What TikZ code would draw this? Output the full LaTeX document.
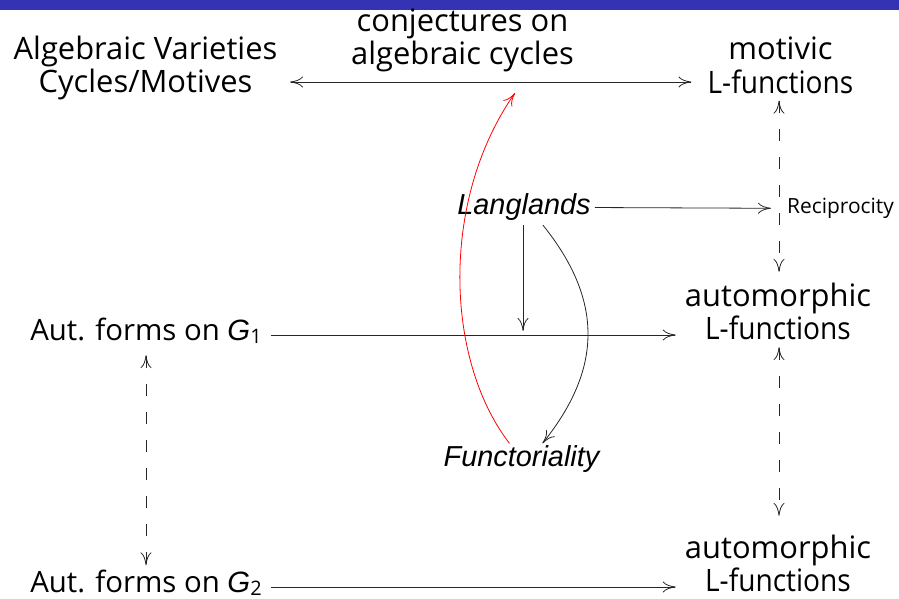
\documentclass[tikz,border=0pt]{standalone}
\usepackage{fontspec}
\usepackage{graphicx}
\setmainfont{Open Sans}
\newfontfamily\helv{Liberation Sans}
\usetikzlibrary{arrows.meta}
\definecolor{bblue}{RGB}{51,51,179}
\newcommand{\mainsz}{\fontsize{31}{31.5}\selectfont}
\newcommand{\Gsub}[1]{{\helv\itshape G}\raisebox{-0.25ex}{\fontsize{20}{22}\selectfont #1}}
\newcommand{\Lfun}{\scalebox{0.91}[1]{L-functions}}
\newcommand{\twol}[2]{\begin{tabular}[t]{@{}c@{}}#1\\#2\end{tabular}}
\begin{document}
\begin{tikzpicture}[x=1bp,y=-1bp,
  >={To[length=13bp,width=11bp]},
  lbl/.style={font=\mainsz,inner sep=0pt,anchor=base},
  glbl/.style={font=\fontsize{29.5}{31.5}\selectfont,inner sep=0pt,anchor=base},
  itl/.style={font=\fontsize{29}{32}\selectfont\helv\itshape,inner sep=4bp,anchor=base},
  small/.style={font=\fontsize{21}{22}\selectfont,inner sep=2bp,anchor=base west},
  conn/.style={line width=0.8bp,draw=black!85,->},
  dashconn/.style={line width=0.8bp,draw=black!85,dash pattern=on 12bp off 16bp,<->}]
\useasboundingbox (0,0) rectangle (899,599);
\fill[bblue] (0,0) rectangle (899,10);

\node[lbl] (av) at (145.5,60) {\twol{Algebraic Varieties}{Cycles/Motives}};
\node[lbl] (conj) at (462.5,32) {\twol{conjectures on}{algebraic cycles}};
\node[lbl] (mot) at (780.5,60) {\twol{motivic}{\Lfun}};
\node[itl] (lang) at (524,215) {Langlands};
\node[small] (rec) at (785,213.5) {Reciprocity};
\node[lbl] (aut1) at (778,306.5) {\twol{automorphic}{\Lfun}};
\node[glbl] (g1) at (146,340) {Aut. forms on \Gsub{1}};
\node[itl] (func) at (521.5,466.5) {Functoriality};
\node[lbl] (aut2) at (778,558.5) {\twol{automorphic}{\Lfun}};
\node[glbl] (g2) at (146,592) {Aut. forms on \Gsub{2}};

\coordinate (avr) at (290,82);
\draw[conn,<->,shorten >=16bp] (avr) -- (avr -| mot.west);
\draw[dashconn,shorten <=-2bp,shorten >=11bp] (mot.south -| 779,0) -- (aut1.north -| 779,0);
\draw[dashconn,shorten <=-2bp,shorten >=19bp] (aut1.south -| 779,0) -- (aut2.north -| 779,0);
\draw[dashconn,shorten <=11bp,shorten >=4bp] (g1.south) -- (g2.north);
\draw[conn,shorten >=14bp] (lang.east) -- (rec.west);
\coordinate (g1r) at (271,335);
\coordinate (g2r) at (271,587);
\draw[conn,shorten >=9bp] (g1r) -- (g1r -| aut1.west);
\draw[conn,shorten >=9bp] (g2r) -- (g2r -| aut2.west);
\coordinate (hit) at (523,331);
\draw[conn] (lang.south -| hit) -- (hit);
\draw[conn] ([xshift=19bp]lang.south) .. controls (603,300) and (603,368) .. ([xshift=21bp,yshift=-2bp]func.north);
\draw[conn,red,draw=red] ([xshift=-12bp,yshift=-2bp]func.north) .. controls (445,360) and (440,200) .. (515,93);
\end{tikzpicture}
\end{document}
